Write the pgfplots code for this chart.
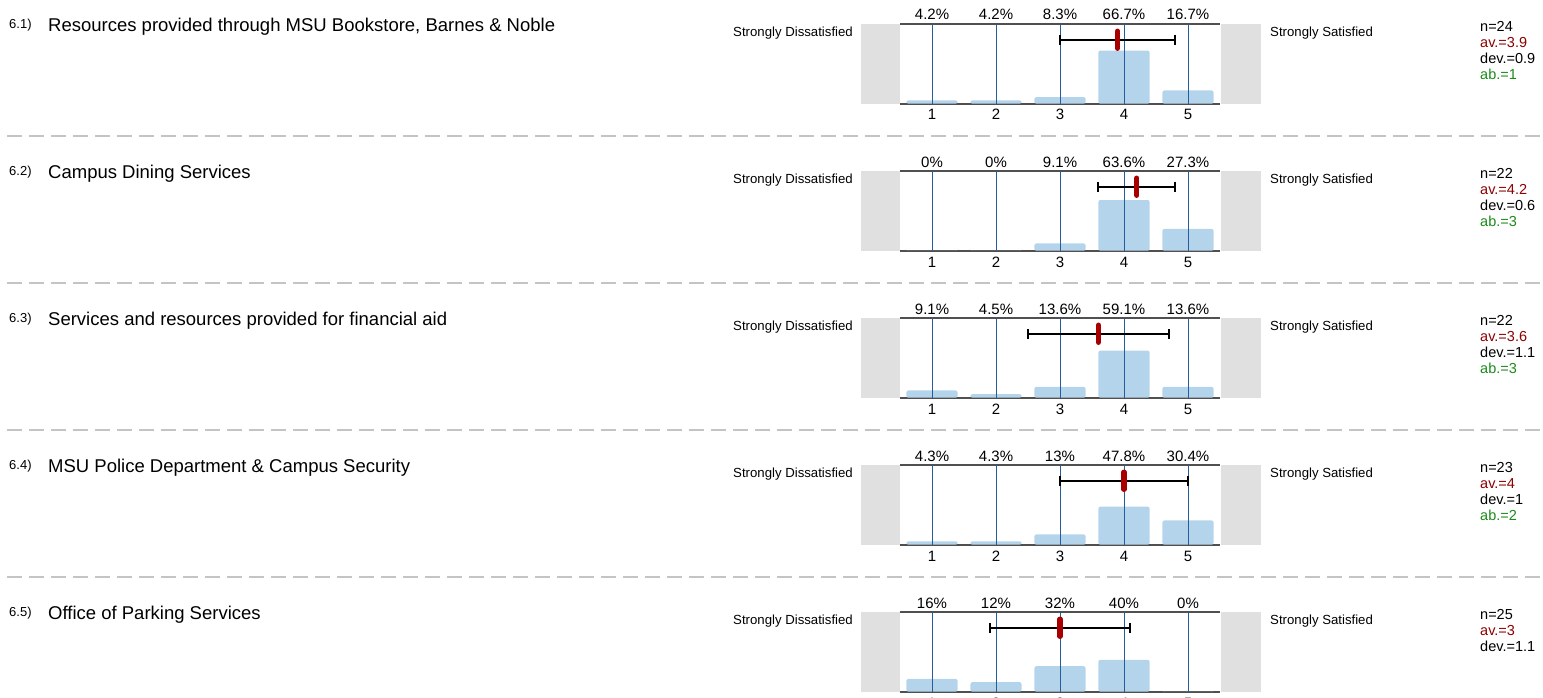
\documentclass[border=0pt]{standalone}
\usepackage{fontspec}
\setmainfont{Liberation Sans}
\usepackage{pgfplots}
\pgfplotsset{compat=1.18}
\definecolor{barblue}{HTML}{B4D4EC}
\definecolor{gridblue}{HTML}{245D9B}
\definecolor{framegray}{HTML}{505050}
\definecolor{graybox}{HTML}{E0E0E0}
\definecolor{meanred}{HTML}{A80000}
\definecolor{avred}{HTML}{8B0000}
\definecolor{abgreen}{HTML}{1A8A1A}
\definecolor{sepgray}{HTML}{C4C4C4}

\pgfplotsset{
  panel/.style={
    scale only axis, width=320pt, height=79.7pt,
    anchor=south west,
    xmin=0.5, xmax=5.5, ymin=0, ymax=100,
    axis x line=box, axis y line=none,
    axis line style={draw=framegray, line width=2pt},
    xtick={1,2,3,4,5}, xticklabels={1,2,3,4,5}, ytick=\empty,
    major tick length=0pt,
    xticklabel style={font=\fontsize{15pt}{18pt}\selectfont, anchor=base, yshift=-16.3pt, inner sep=0pt},
    clip=false,
  },
}

% #1 y offset, #2 bar data, #3 label data, #4 mean, #5 dev
\newcommand{\panel}[5]{%
\begin{axis}[panel, at={(900pt,{-103.7pt-#1pt})}]
  \fill[graybox] (axis cs:-0.11,0) rectangle (axis cs:0.5,100);
  \fill[graybox] (axis cs:5.52,0) rectangle (axis cs:6.136,100);
  \addplot[ybar, bar width=0.8, fill=barblue, draw=none, rounded corners=2pt] coordinates {#2};
  \pgfplotsinvokeforeach{1,...,5}{\addplot[gridblue, line width=1pt, mark=none] coordinates {(##1,0) (##1,100)};}
  \addplot[draw=none, mark=none, nodes near coords, point meta=explicit symbolic,
     nodes near coords style={anchor=base, yshift=4pt, inner sep=0pt, font=\fontsize{15pt}{18pt}\selectfont, text=black}]
     coordinates {#3};
  \addplot[black, line width=2pt, mark=none, error bars/.cd, x dir=both, x explicit,
     error bar style={line width=2pt, black}, error mark options={rotate=90, line width=2pt, mark size=5pt, black}]
     coordinates {(#4,80) +- (#5,0)};
  \addplot[meanred, line width=5.3pt, line cap=round, mark=none] coordinates {(#4,91) (#4,69.5)};
\end{axis}}

\newcommand{\titles}[6]{% #1 offset, #2 num, #3 title, #4 n, #5 av, #6 dev
  \node[anchor=base west, inner sep=0pt, font=\fontsize{13pt}{15pt}\selectfont] at (9pt,{-28.5pt-#1pt}) {#2};
  \node[anchor=base west, inner sep=0pt, font=\fontsize{18.5pt}{22pt}\selectfont] at (48pt,{-31.5pt-#1pt}) {#3};
  \node[anchor=base east, inner sep=0pt, font=\fontsize{13.2pt}{16pt}\selectfont] at (853pt,{-36.5pt-#1pt}) {Strongly Dissatisfied};
  \node[anchor=base west, inner sep=0pt, font=\fontsize{13.2pt}{16pt}\selectfont] at (1270pt,{-36.5pt-#1pt}) {Strongly Satisfied};
  \node[anchor=base west, inner sep=0pt, font=\fontsize{14.5pt}{16pt}\selectfont] at (1480pt,{-31.7pt-#1pt}) {n=#4};
  \node[anchor=base west, inner sep=0pt, font=\fontsize{14.5pt}{16pt}\selectfont, text=avred] at (1480pt,{-47.5pt-#1pt}) {av.=#5};
  \node[anchor=base west, inner sep=0pt, font=\fontsize{14.5pt}{16pt}\selectfont] at (1480pt,{-63.3pt-#1pt}) {dev.=#6};
}
\newcommand{\abline}[2]{%
  \node[anchor=base west, inner sep=0pt, font=\fontsize{14.5pt}{16pt}\selectfont, text=abgreen] at (1480pt,{-79.3pt-#1pt}) {ab.=#2};
}

\begin{document}
\begin{tikzpicture}
\useasboundingbox (0,0) rectangle (1543pt,-698pt);
\clip (0,0) rectangle (1543pt,-698pt);

\foreach \y in {136,283,430,577} {
  \draw[sepgray, line width=1.6pt, dash pattern=on 15pt off 7pt, dash phase=15pt] (0,-\y pt) -- (1543pt,-\y pt);
}

\panel{0}{(1,4.2) (2,4.2) (3,8.3) (4,66.7) (5,16.7)}{(1,100)[4.2\%] (2,100)[4.2\%] (3,100)[8.3\%] (4,100)[66.7\%] (5,100)[16.7\%]}{3.9}{0.9}
\titles{0}{6.1)}{Resources provided through MSU Bookstore, Barnes \& Noble}{24}{3.9}{0.9}
\abline{0}{1}

\panel{147}{(1,0) (2,0) (3,9.1) (4,63.6) (5,27.3)}{(1,100)[0\%] (2,100)[0\%] (3,100)[9.1\%] (4,100)[63.6\%] (5,100)[27.3\%]}{4.2}{0.6}
\titles{147}{6.2)}{Campus Dining Services}{22}{4.2}{0.6}
\abline{147}{3}

\panel{294}{(1,9.1) (2,4.5) (3,13.6) (4,59.1) (5,13.6)}{(1,100)[9.1\%] (2,100)[4.5\%] (3,100)[13.6\%] (4,100)[59.1\%] (5,100)[13.6\%]}{3.6}{1.1}
\titles{294}{6.3)}{Services and resources provided for financial aid}{22}{3.6}{1.1}
\abline{294}{3}

\panel{441}{(1,4.3) (2,4.3) (3,13) (4,47.8) (5,30.4)}{(1,100)[4.3\%] (2,100)[4.3\%] (3,100)[13\%] (4,100)[47.8\%] (5,100)[30.4\%]}{4}{1}
\titles{441}{6.4)}{MSU Police Department \& Campus Security}{23}{4}{1}
\abline{441}{2}

\panel{588}{(1,16) (2,12) (3,32) (4,40) (5,0)}{(1,100)[16\%] (2,100)[12\%] (3,100)[32\%] (4,100)[40\%] (5,100)[0\%]}{3}{1.1}
\titles{588}{6.5)}{Office of Parking Services}{25}{3}{1.1}

\end{tikzpicture}
\end{document}
